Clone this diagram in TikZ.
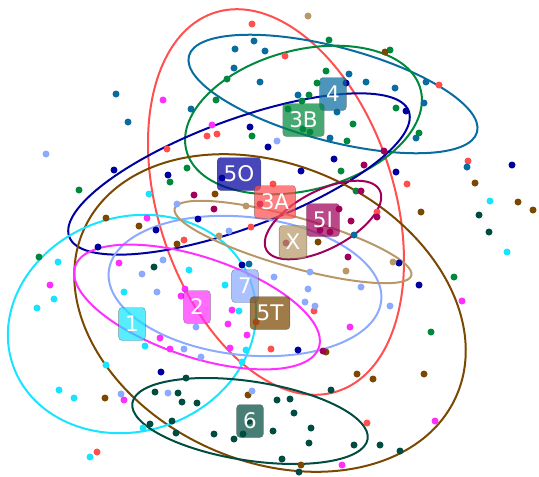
\documentclass[tikz,border=0pt]{standalone}
\usepackage{fontspec}
\newfontfamily\tagfont{DejaVu Sans}
\definecolor{clThreeA}{RGB}{255,79,79}
\definecolor{clFour}{RGB}{8,108,160}
\definecolor{clThreeB}{RGB}{0,136,60}
\definecolor{clFiveO}{RGB}{0,0,160}
\definecolor{clFiveT}{RGB}{122,72,0}
\definecolor{clOne}{RGB}{24,228,255}
\definecolor{clSeven}{RGB}{140,170,255}
\definecolor{clTwo}{RGB}{255,48,255}
\definecolor{clSix}{RGB}{0,76,64}
\definecolor{clX}{RGB}{184,152,104}
\definecolor{clFiveI}{RGB}{160,0,90}

\begin{document}
\begin{tikzpicture}[x=1pt,y=-1pt,
    hull/.style={line width=2pt},
    tag/.style={rounded corners=3.5pt, draw=black!75, draw opacity=0.55, fill opacity=0.72,
      text opacity=1, text=white, font=\tagfont\fontsize{21.5}{22}\selectfont,
      minimum width=26pt, minimum height=33pt, inner xsep=6.5pt, inner ysep=2pt}]
\useasboundingbox (0,0) rectangle (539,477);

\draw[hull, clThreeA, rotate around={-72:(276,202)}] (276,202) ellipse [x radius=199, y radius=118];
\draw[hull, clFour, rotate around={-14.8:(333,94)}] (333,94) ellipse [x radius=149, y radius=47];
\draw[hull, clThreeB, rotate around={14.6:(303.5,120)}] (303.5,120) ellipse [x radius=121, y radius=70];
\draw[hull, clFiveO, rotate around={20.3:(239,174)}] (239,174) ellipse [x radius=181, y radius=54];
\draw[hull, clFiveT, rotate around={-24.2:(270,313)}] (270,313) ellipse [x radius=204, y radius=148];
\draw[hull, clOne, rotate around={19:(132,324)}] (132,324) ellipse [x radius=126, y radius=107];
\draw[hull, clSeven, rotate around={-6.2:(245,286)}] (245,286) ellipse [x radius=137, y radius=69];
\draw[hull, clTwo, rotate around={-18.4:(197,307)}] (197,307) ellipse [x radius=128.5, y radius=50];
\draw[hull, clSix, rotate around={-8.7:(250,421)}] (250,421) ellipse [x radius=119, y radius=39.5];
\draw[hull, clX, rotate around={-15.8:(293,242)}] (293,242) ellipse [x radius=123, y radius=25];
\draw[hull, clFiveI, rotate around={27.7:(323,220)}] (323,220) ellipse [x radius=64, y radius=29];

\foreach \p in {(252,24),(285,56),(439,85),(207,136),(217,134),(167,149),(251,227),(184,240),(468,161),
    (407,184),(273,184),(377,212),(256,322),(314,311),(271,349),(367,423),(97,452)}
  \fill[clThreeA] \p circle [radius=3.5];
\foreach \p in {(254,41),(235,49),(265,51),(234,68),(260,82),(116,94),(191,109),(128,122),(349,74),(366,82),
    (395,88),(426,82),(298,95),(337,112),(424,103),(330,138),(416,138),(467,167),(354,235),(249,264)}
  \fill[clFour] \p circle [radius=3.5];
\foreach \p in {(227,79),(216,100),(252,136),(187,168),(170,182),(79,190),(329,40),(390,50),(326,71),(317,83),
    (309,95),(302,101),(288,109),(396,108),(353,124),(303,129),(310,132),(347,141),(419,133),(341,171),
    (356,191),(454,277),(431,332),(39,257)}
  \fill[clThreeB] \p circle [radius=3.5];
\foreach \p in {(250,127),(268,147),(114,170),(168,175),(222,178),(198,219),(156,230),(346,83),(406,111),
    (334,159),(301,171),(396,172),(512,165),(98,247),(242,265),(399,263),(419,285),(298,350),(161,372)}
  \fill[clFiveO] \p circle [radius=3.5];
\foreach \p in {(215,194),(106,218),(139,226),(385,52),(475,183),(518,202),(533,210),(421,212),(177,244),
    (318,242),(105,398),(248,395),(326,352),(357,374),(373,379),(424,374),(301,465)}
  \fill[clFiveT] \p circle [radius=3.5];
\foreach \p in {(149,194),(490,201),(507,252),(58,262),(189,270),(54,299),(37,308),(124,292),(225,285),
    (239,311),(145,346),(246,350),(242,362),(106,365),(59,390),(74,398),(143,428),(90,457)}
  \fill[clOne] \p circle [radius=3.5];
\foreach \p in {(46,154),(177,204),(229,231),(277,141),(163,260),(142,274),(157,292),(196,327),(184,349),
    (201,357),(274,277),(310,272),(308,289),(361,287),(305,302),(315,306),(390,306),(121,394),(168,393),(252,391)}
  \fill[clSeven] \p circle [radius=3.5];
\foreach \p in {(163,100),(212,125),(147,218),(119,263),(50,285),(181,296),(185,289),(232,310),(228,324),
    (247,335),(160,338),(170,349),(230,348),(124,400),(350,327),(462,301),(435,421),(342,465)}
  \fill[clTwo] \p circle [radius=3.5];
\foreach \p in {(479,215),(489,232),(154,267),(186,378),(155,392),(178,393),(182,402),(197,403),(150,424),
    (172,421),(176,433),(214,434),(234,439),(243,434),(249,421),(331,390),(277,400),(290,399),(294,413),
    (273,431),(311,428),(309,443),(354,445),(380,445),(400,451),(282,459),(299,472)}
  \fill[clSix] \p circle [radius=3.5];
\foreach \p in {(308,16),(246,206),(219,236),(393,262),(346,271)}
  \fill[clX] \p circle [radius=3.5];
\foreach \p in {(194,195),(214,209),(260,204),(384,151),(364,165),(361,191),(339,209),(377,217),(351,221),
    (320,230),(330,232),(286,243),(348,257),(323,351)}
  \fill[clFiveI] \p circle [radius=3.5];

\node[tag, fill=clFour] (tFour) at (333,94) {4};
\node[tag, fill=clThreeB] (tThreeB) at (303.5,120) {3B};
\node[tag, fill=clFiveO] (tFiveO) at (239,174) {5O};
\node[tag, fill=clThreeA] (tThreeA) at (275,202) {3A};
\node[tag, fill=clFiveI] (tFiveI) at (323,220) {5I};
\node[tag, fill=clX] (tX) at (293,242) {X};
\node[tag, fill=clSeven] (tSeven) at (245,286) {7};
\node[tag, fill=clTwo] (tTwo) at (197,307) {2};
\node[tag, fill=clFiveT] (tFiveT) at (270,313) {5T};
\node[tag, fill=clOne] (tOne) at (132,324) {1};
\node[tag, fill=clSix] (tSix) at (250,421) {6};
\end{tikzpicture}
\end{document}
